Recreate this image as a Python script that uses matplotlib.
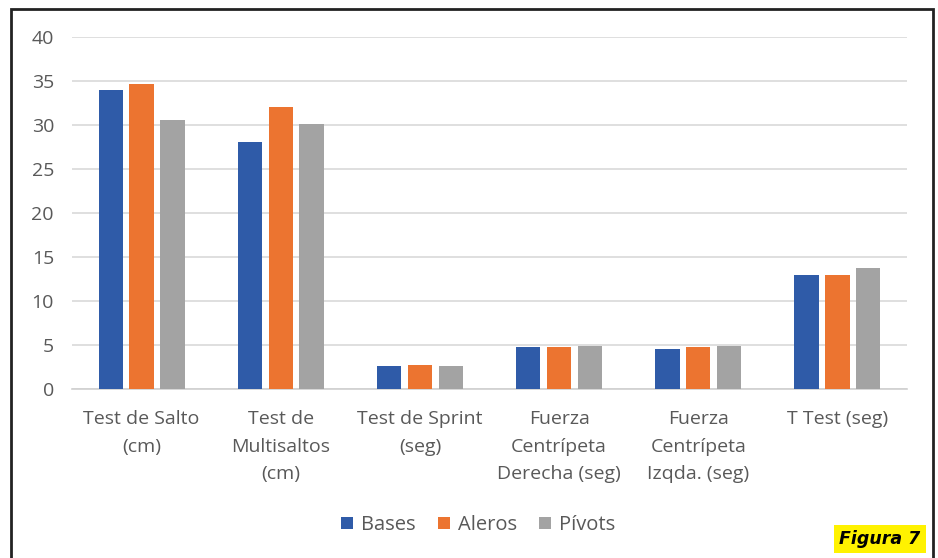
import matplotlib.pyplot as plt
import matplotlib.patches as mpatches
import numpy as np

plt.rcParams['font.family'] = ['Open Sans', 'DejaVu Sans']

categories = ["Test de Salto\n(cm)", "Test de\nMultisaltos\n(cm)", "Test de Sprint\n(seg)",
              "Fuerza\nCentrípeta\nDerecha (seg)", "Fuerza\nCentrípeta\nIzqda. (seg)", "T Test (seg)"]
bases = [34.0, 28.1, 2.6, 4.8, 4.5, 13.0]
aleros = [34.7, 32.0, 2.7, 4.8, 4.8, 13.0]
pivots = [30.6, 30.1, 2.6, 4.9, 4.9, 13.7]

series = [("Bases", bases, "#2f5ba8"), ("Aleros", aleros, "#ec7430"), ("Pívots", pivots, "#a3a3a3")]
text_color = "#595959"

fig = plt.figure(figsize=(9.38, 5.58), dpi=100)
ax = fig.add_axes([72 / 938, 1 - 389 / 558, (907 - 72) / 938, (389 - 37) / 558])

x = np.arange(len(categories))
width = 0.175
step = 0.222
for i, (name, vals, color) in enumerate(series):
    ax.bar(x + (i - 1) * step, vals, width, color=color, label=name, zorder=3)

ax.set_xlim(-0.5, len(categories) - 0.5)
ax.set_ylim(0, 40)
ax.set_yticks(range(0, 41, 5))
ax.yaxis.grid(True, color="#d9d9d9", linewidth=1.2, zorder=0)
ax.set_axisbelow(True)
for side in ["left", "right", "top"]:
    ax.spines[side].set_visible(False)
ax.spines["bottom"].set_color("#d0d0d0")
ax.spines["bottom"].set_linewidth(1.2)
ax.tick_params(axis="both", length=0, labelsize=14, labelcolor=text_color)
ax.tick_params(axis="y", pad=13)
ax.tick_params(axis="x", pad=15)
ax.set_xticks(x)
ax.set_xticklabels(categories, linespacing=1.7)

leg = fig.legend(loc="center", bbox_to_anchor=(478 / 938, 1 - 525 / 558), ncol=3, frameon=False,
                 fontsize=14.5, handlelength=0.6, handleheight=0.6, handletextpad=0.4, columnspacing=1.1)
for t in leg.get_texts():
    t.set_color(text_color)

# outer frame
fig.patches.append(mpatches.Rectangle((11 / 938, -0.05), (933 - 11) / 938, 1.05 - 9 / 558,
                                      transform=fig.transFigure, fill=False,
                                      edgecolor="#222222", linewidth=2))

fig.text(880 / 938, 1 - 539 / 558, "Figura 7", ha="center", va="center", fontsize=12.5,
         fontweight="bold", fontstyle="italic", color="black", family="DejaVu Sans",
         bbox=dict(boxstyle="square,pad=0.3", facecolor="#fff200", edgecolor="none"))

fig.savefig("out.png", dpi=100)
